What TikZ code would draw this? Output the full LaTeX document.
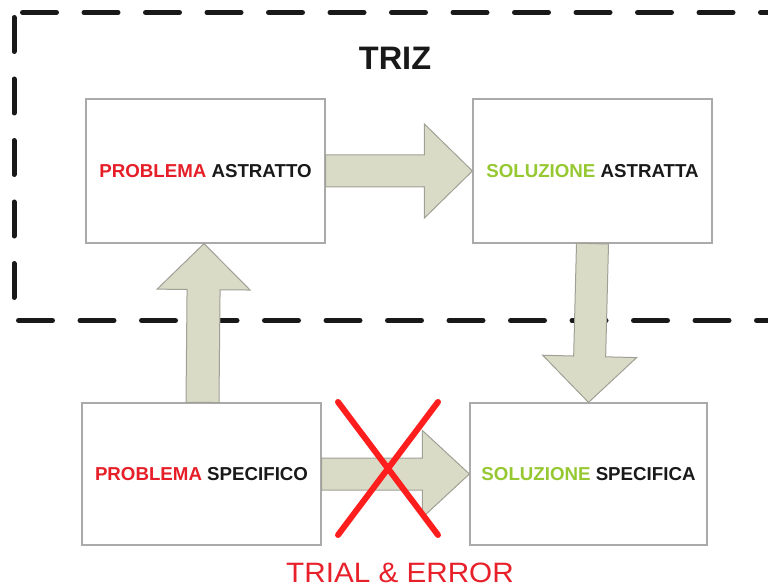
\documentclass[tikz,border=0pt]{standalone}
\usepackage{fontspec}
\setmainfont{Liberation Sans}
\usetikzlibrary{calc}
\definecolor{probred}{RGB}{230,30,40}
\definecolor{solgreen}{RGB}{150,200,50}
\definecolor{txtblack}{RGB}{25,25,25}
\definecolor{arrowfill}{RGB}{218,219,198}
\definecolor{arrowdraw}{RGB}{160,160,150}
\definecolor{boxdraw}{RGB}{170,170,170}
\definecolor{xred}{RGB}{255,30,30}
\definecolor{trialred}{RGB}{232,32,42}
\definecolor{dashcol}{RGB}{25,25,25}
\tikzset{
  dashline/.style={draw=dashcol, line width=5pt, dash pattern=on 34pt off 27.5pt, line cap=round},
  stepbox/.style={draw=boxdraw, line width=1.2pt, fill=white, rectangle, inner sep=0pt,
    font=\bfseries\fontsize{18.7}{20}\selectfont, text=txtblack},
  blockarrowstyle/.style={fill=arrowfill, draw=arrowdraw, line width=1pt, line join=miter},
  crossline/.style={draw=xred, line width=6pt, line cap=round},
}
% #1 start, #2 tip, #3 shaft half width, #4 head half width, #5 head length
\newcommand{\myblockarrow}[5]{%
  \coordinate (bah) at ($(#2)!#5!(#1)$);
  \draw[blockarrowstyle] ($(#1)!#3!90:(#2)$) -- ($(bah)!#3!90:(#2)$) -- ($(bah)!#4!90:(#2)$)
    -- (#2) -- ($(bah)!#4!-90:(#2)$) -- ($(bah)!#3!-90:(#2)$) -- ($(#1)!#3!-90:(#2)$) -- cycle;
}
\begin{document}
\begin{tikzpicture}[x=1pt,y=-1pt]
\useasboundingbox (0,0) rectangle (768,588);
\clip (0,0) rectangle (768,588);
\fill[white] (0,0) rectangle (768,588);

% dashed frame
\draw[dashline] (22.5,12.5) -- (800,12.5);
\draw[dashline] (14,17.5) -- (14,298.5);
\draw[dashline] (18.5,320.5) -- (800,320.5);

% title
\node[font=\bfseries\fontsize{32.5}{34}\selectfont, text=txtblack, inner sep=0pt] (triz) at (395,58.5) {TRIZ};

% boxes
\node[stepbox, minimum width=239pt, minimum height=144pt] (pa) at (205.5,171)
  {{\color{probred}PROBLEMA} ASTRATTO};
\node[stepbox, minimum width=239pt, minimum height=144pt] (sa) at (592.5,171)
  {{\color{solgreen}SOLUZIONE} ASTRATTA};
\node[stepbox, minimum width=239pt, minimum height=142pt] (ps) at (201.5,474)
  {{\color{probred}PROBLEMA} SPECIFICO};
\node[stepbox, minimum width=237pt, minimum height=142pt] (ss) at (588.5,474)
  {{\color{solgreen}SOLUZIONE} SPECIFICA};

% block arrows
\myblockarrow{pa.east}{sa.west}{16pt}{47pt}{48pt}
\myblockarrow{ps.east}{ss.west}{16pt}{43.5pt}{47pt}
\coordinate (upS) at ($(ps.north)+(1,0)$);
\coordinate (upT) at ($(pa.south)+(-1.5,0)$);
\myblockarrow{upS}{upT}{16.5pt}{46.5pt}{46pt}
\myblockarrow{sa.south}{ss.north}{16pt}{47pt}{46pt}

% red cross
\coordinate (x1) at (338,402);
\coordinate (x2) at (438,535);
\coordinate (x3) at (438,402);
\coordinate (x4) at (338,535);
\draw[crossline] (x1) -- (x2);
\draw[crossline] (x3) -- (x4);

% trial & error
\node[font=\fontsize{28}{30}\selectfont, text=trialred, inner sep=0pt, xscale=1.06] (te) at (400,572.5) {TRIAL \& ERROR};
\end{tikzpicture}
\end{document}
